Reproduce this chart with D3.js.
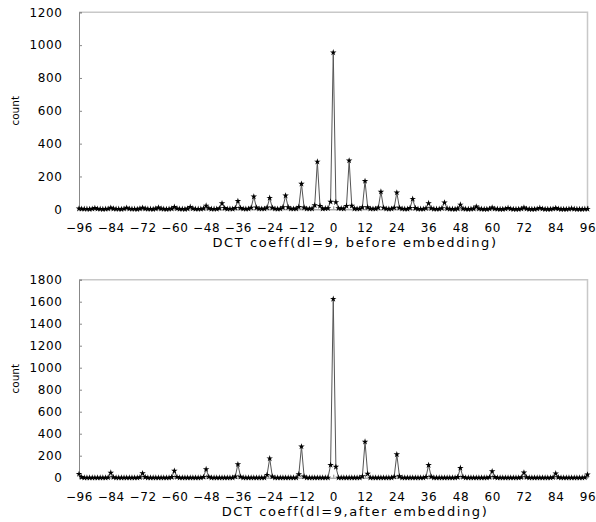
<!DOCTYPE html>
<html>
<head>
<meta charset="utf-8">
<script src="https://cdn.jsdelivr.net/npm/d3@7"></script>
<style>
  body { margin: 0; background: #fff; }
  text { font-family: "DejaVu Sans", sans-serif; fill: #000; }
</style>
</head>
<body>
<svg id="chart" width="596" height="522"></svg>
<script>
// x categories: every integer DCT coefficient from -96 to 96
const coeffs = d3.range(-96, 97);
const xTicks = d3.range(-96, 97, 12);

// counts before embedding, one row per 12 coefficients (-96 .. 95), then 96
const before = [
    4, 3, 2, 2, 1, 3,   7, 3, 2, 1, 2, 3,
    9, 4, 2, 2, 1, 3,   9, 3, 2, 2, 1, 4,
    9, 4, 2, 2, 1, 4,  10, 4, 2, 1, 2, 4,
   14, 5, 2, 2, 1, 4,  14, 5, 2, 2, 2, 5,
   22, 6, 2, 2, 2, 6,  36, 7, 2, 3, 2, 8,
   50, 8, 3, 2, 3, 9,  77,10, 3, 3, 3,10,
   69, 9, 3, 2, 3,12,  83,12, 3, 3, 4,14,
  155,10, 3, 3, 4,24, 290,20, 4, 5, 6,46,
  955,43, 6, 5, 4,20, 297,21, 4, 3, 3,12,
  172,12, 3, 3, 3,10, 107, 9, 3, 2, 3, 9,
  102, 9, 3, 2, 2, 8,  63, 7, 2, 2, 2, 6,
   37, 6, 2, 2, 2, 6,  41, 5, 2, 2, 1, 4,
   28, 4, 2, 1, 2, 4,  16, 4, 2, 1, 1, 3,
   10, 3, 2, 1, 1, 3,   8, 3, 1, 1, 1, 3,
   10, 3, 1, 1, 1, 3,   8, 3, 1, 1, 1, 3,
    7, 3, 1, 1, 1, 2,   5, 2, 1, 1, 1, 2,
    2
];

// counts after embedding, same layout
const after = [
    33, 5, 0, 0, 0, 0, 0, 0, 0, 0, 0,  2,
    45, 4, 0, 0, 0, 0, 0, 0, 0, 0, 0,  3,
    40, 5, 0, 0, 0, 0, 0, 0, 0, 0, 0,  5,
    62, 6, 0, 0, 0, 0, 0, 0, 0, 0, 0,  6,
    77, 8, 0, 0, 0, 0, 0, 0, 0, 0, 0, 10,
   122, 8, 0, 0, 0, 0, 0, 0, 0, 0, 0, 25,
   175,10, 0, 0, 0, 0, 0, 0, 0, 0, 0, 30,
   283,10, 0, 0, 0, 0, 0, 0, 0, 0, 0,115,
  1625,98, 0, 0, 0, 0, 0, 0, 0, 0, 0, 12,
   327,35, 0, 0, 0, 0, 0, 0, 0, 0, 0,  8,
   212,12, 0, 0, 0, 0, 0, 0, 0, 0, 0,  6,
   114, 8, 0, 0, 0, 0, 0, 0, 0, 0, 0,  5,
    88, 6, 0, 0, 0, 0, 0, 0, 0, 0, 0,  4,
    58, 5, 0, 0, 0, 0, 0, 0, 0, 0, 0,  3,
    46, 4, 0, 0, 0, 0, 0, 0, 0, 0, 0,  3,
    38, 3, 0, 0, 0, 0, 0, 0, 0, 0, 0,  2,
    28
];

const yTicksBefore = d3.range(0, 1201, 200);
const yTicksAfter = d3.range(0, 1801, 200);
const titleBefore = "DCT coeff(dl=9, before embedding)";
const titleAfter = "DCT coeff(dl=9,after embedding)";

const svg = d3.select("#chart");
const left = 79, right = 587.5;

function drawPanel(values, yTicks, top, bottom, title) {
    const g = svg.append("g");

    const x = d3.scaleLinear().domain([-96, 96]).range([left, right]);
    const y = d3.scaleLinear().domain([0, yTicks[yTicks.length - 1]]).range([bottom, top]);

    // light frame on top and right
    g.append("path")
        .attr("d", "M" + left + "," + top + "H" + right + "V" + bottom)
        .attr("fill", "none")
        .attr("stroke", "#c8c8c8")
        .attr("stroke-width", 1.5);

    const yAxis = g.append("g")
        .attr("transform", "translate(" + left + ",0)")
        .call(d3.axisLeft(y).tickValues(yTicks).tickSize(-3).tickPadding(16.5).tickFormat(d3.format("d")));
    yAxis.select(".domain").attr("stroke", "#888");
    yAxis.selectAll(".tick line").attr("stroke", "#888");
    yAxis.selectAll("text").style("font-size", "12px").style("letter-spacing", "0.6px");

    const xAxis = g.append("g")
        .attr("transform", "translate(0," + bottom + ")")
        .call(d3.axisBottom(x).tickValues(xTicks).tickSize(-3).tickPadding(14.5));
    xAxis.select(".domain").attr("stroke", "#888");
    xAxis.selectAll(".tick line").attr("stroke", "#888");
    xAxis.selectAll("text").style("font-size", "12px").style("letter-spacing", "0.6px");

    const line = d3.line()
        .x(function(d, i) { return x(coeffs[i]); })
        .y(function(d) { return y(d); });

    g.append("path")
        .datum(values)
        .attr("d", line)
        .attr("fill", "none")
        .attr("stroke", "#555")
        .attr("stroke-width", 1);

    g.selectAll(".pt")
        .data(values)
        .enter().append("path")
        .attr("class", "pt")
        .attr("transform", function(d, i) { return "translate(" + x(coeffs[i]) + "," + y(d) + ")"; })
        .attr("d", d3.symbol().type(d3.symbolStar).size(13))
        .attr("fill", "#000");

    // axis titles
    g.append("text")
        .attr("x", 355)
        .attr("y", bottom + 38)
        .attr("text-anchor", "middle")
        .style("font-size", "13px")
        .style("letter-spacing", "1.6px")
        .text(title);

    g.append("text")
        .attr("transform", "translate(19," + ((top + bottom) / 2) + ") rotate(-90)")
        .attr("text-anchor", "middle")
        .style("font-size", "10.5px")
        .text("count");
}

drawPanel(before, yTicksBefore, 12.3, 209.3, titleBefore);
drawPanel(after, yTicksAfter, 279.7, 477.7, titleAfter);
</script>
</body>
</html>
